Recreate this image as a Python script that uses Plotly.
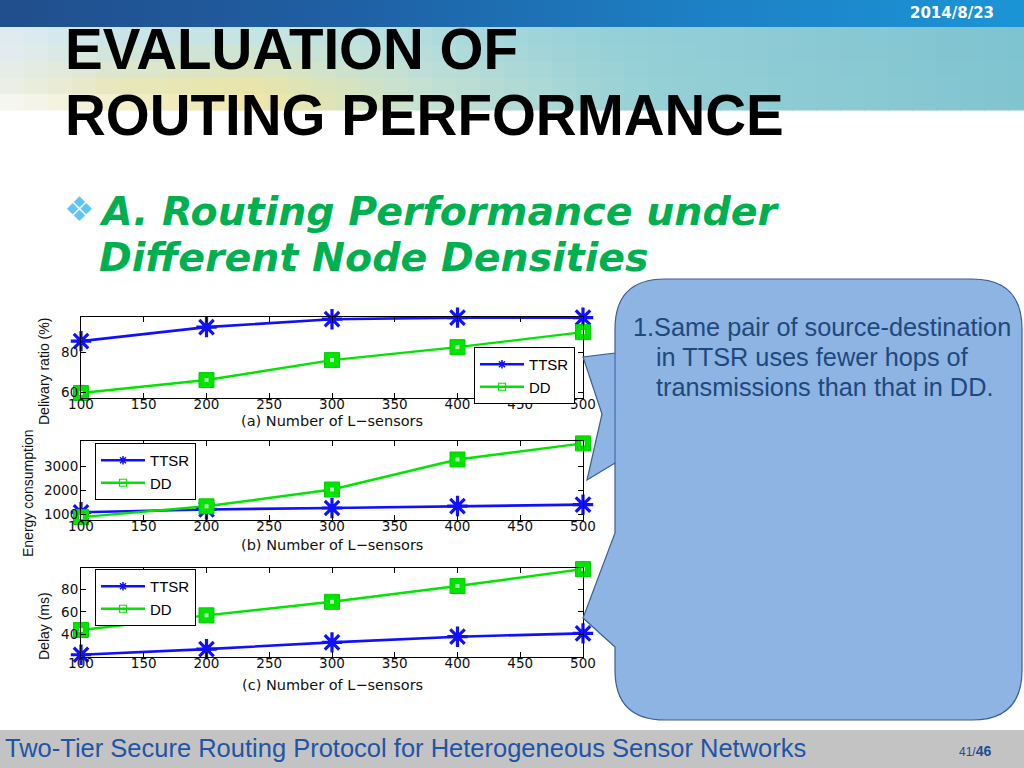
import plotly.graph_objects as go

W, H = 1024, 768

# ---------------- data ----------------
sensors = [100, 200, 300, 400, 500]
x_ticks = [100, 150, 200, 250, 300, 350, 400, 450, 500]
series_names = ["TTSR", "DD"]

delivery_ttsr = [85.5, 92.5, 96.5, 97.3, 97.3]
delivery_dd = [59.5, 66.0, 76.0, 82.5, 90.0]
delivery_ticks = [60, 80]

energy_ttsr = [1080, 1200, 1260, 1340, 1400]
energy_dd = [880, 1330, 2030, 3280, 3950]
energy_ticks = [1000, 2000, 3000]

delay_ttsr = [22, 27, 33, 38, 41]
delay_dd = [44, 57, 69, 83, 98]
delay_ticks = [40, 60, 80]

x_titles = ["(a) Number of L\u2212sensors", "(b) Number of L\u2212sensors", "(c) Number of L\u2212sensors"]
y_titles = ["Delivary ratio (%)", "Energy consumption", "Delay (ms)"]

slide_title = ["EVALUATION OF", "ROUTING PERFORMANCE"]
subtitle = ["A. Routing Performance under", "Different Node Densities"]
callout_lines = ["1.Same pair of source-destination", "in TTSR uses fewer hops of", "transmissions than that in DD."]
footer_text = "Two-Tier Secure Routing Protocol for Heterogeneous Sensor Networks"
date_text = "2014/8/23"

# ---------------- helpers ----------------
def px(x):
    return x / W


def py(y):
    return 1 - y / H


BLUE = "#1010ff"
GREEN = "#00e400"
FONT = "Liberation Sans"
WIDE = "DejaVu Sans"

panels = [
    dict(top=317, bottom=398, yrange=[57, 97.6], yt=delivery_ticks, ys=(delivery_ttsr, delivery_dd),
         legend=dict(x=474, y=347), ytitle=(44, 372), xtitle=421),
    dict(top=441, bottom=520, yrange=[760, 4050], yt=energy_ticks, ys=(energy_ttsr, energy_dd),
         legend=dict(x=95, y=443), ytitle=(28, 493), xtitle=545),
    dict(top=568, bottom=657, yrange=[20, 99], yt=delay_ticks, ys=(delay_ttsr, delay_dd),
         legend=dict(x=95, y=569), ytitle=(44, 626), xtitle=685),
]
PL, PR = 81, 583

fig = go.Figure()
layout = dict(
    width=W, height=H, margin=dict(l=0, r=0, t=0, b=0, pad=0, autoexpand=False),
    paper_bgcolor="white", plot_bgcolor="white", showlegend=True,
)
annotations = []
shapes = []

for i, p in enumerate(panels):
    n = "" if i == 0 else str(i + 1)
    xa, ya = "x" + n, "y" + n
    leg = "legend" + n
    t_vals, d_vals = p["ys"]
    # legend-carrying traces (line + small markers)
    fig.add_trace(go.Scatter(x=sensors, y=t_vals, name=series_names[0], mode="lines+markers",
                             line=dict(color=BLUE, width=2.6),
                             marker=dict(symbol="asterisk-open", size=7, color=BLUE,
                                         line=dict(color=BLUE, width=1.5)),
                             xaxis=xa, yaxis=ya, legend=leg, cliponaxis=False))
    fig.add_trace(go.Scatter(x=sensors, y=d_vals, name=series_names[1], mode="lines+markers",
                             line=dict(color=GREEN, width=2.4),
                             marker=dict(symbol="square-open", size=7, color=GREEN,
                                         line=dict(color=GREEN, width=1.2)),
                             xaxis=xa, yaxis=ya, legend=leg, cliponaxis=False))
    # big plot markers
    fig.add_trace(go.Scatter(x=sensors, y=t_vals, mode="markers", showlegend=False,
                             marker=dict(symbol="asterisk-open", size=17, color=BLUE,
                                         line=dict(color=BLUE, width=3.2)),
                             xaxis=xa, yaxis=ya, cliponaxis=False, hoverinfo="skip"))
    fig.add_trace(go.Scatter(x=sensors, y=d_vals, mode="markers", showlegend=False,
                             marker=dict(symbol="square", size=15, color=GREEN,
                                         line=dict(color="#00d000", width=1)),
                             xaxis=xa, yaxis=ya, cliponaxis=False, hoverinfo="skip"))
    fig.add_trace(go.Scatter(x=sensors, y=d_vals, mode="markers", showlegend=False,
                             marker=dict(symbol="square", size=4, color="#b8f5b8", line=dict(width=0)),
                             xaxis=xa, yaxis=ya, cliponaxis=False, hoverinfo="skip"))

    axis_common = dict(showline=True, linecolor="black", linewidth=1, mirror="allticks",
                       ticks="inside", ticklen=5, tickcolor="black", showgrid=False, zeroline=False,
                       automargin=False,
                       tickfont=dict(family=WIDE, size=13.5, color="#111"), fixedrange=True)
    layout["xaxis" + n] = dict(domain=[px(PL), px(PR)], range=[100, 500], tickvals=x_ticks,
                               anchor=ya, ticklabelstandoff=-6, **axis_common)
    layout["yaxis" + n] = dict(domain=[py(p["bottom"]), py(p["top"])], range=p["yrange"],
                               tickvals=p["yt"], anchor=xa, ticklabelstandoff=-1, **axis_common)
    layout[leg] = dict(x=px(p["legend"]["x"]), y=py(p["legend"]["y"]), xanchor="left", yanchor="top",
                       bgcolor="white", bordercolor="black", borderwidth=1,
                       font=dict(family=FONT, size=15, color="black"),
                       tracegroupgap=0, itemwidth=44)
    annotations.append(dict(text=x_titles[i], x=px((PL + PR) / 2), y=py(p["xtitle"]),
                            xref="paper", yref="paper", showarrow=False, xanchor="center", yanchor="middle",
                            font=dict(family=WIDE, size=14.5, color="#111")))
    annotations.append(dict(text=y_titles[i], x=px(p["ytitle"][0]), y=py(p["ytitle"][1]),
                            xref="paper", yref="paper", showarrow=False, textangle=-90,
                            xanchor="center", yanchor="middle",
                            font=dict(family=FONT, size=14, color="#111")))

# ---------------- slide decorations ----------------
def lerp(c1, c2, t):
    return tuple(int(round(a + (b - a) * t)) for a, b in zip(c1, c2))


def ramp(stops, v):
    for (v1, c1), (v2, c2) in zip(stops, stops[1:]):
        if v <= v2:
            return lerp(c1, c2, (v - v1) / (v2 - v1) if v2 > v1 else 0)
    return stops[-1][1]


def rgb(c):
    return "rgb(%d,%d,%d)" % c


# top blue bar
bar_stops = [(0, (33, 78, 140)), (350, (31, 96, 164)), (700, (29, 128, 196)), (1024, (27, 148, 214))]
step = 16
for x0 in range(0, W, step):
    shapes.append(dict(type="rect", xref="paper", yref="paper", x0=px(x0), x1=px(x0 + step + 1),
                       y0=py(27), y1=py(0), fillcolor=rgb(ramp(bar_stops, x0 + step / 2)),
                       line=dict(width=0), layer="below"))

# light band under the bar
band_top = [(0, (226, 236, 242)), (120, (200, 228, 232)), (300, (196, 228, 226)), (600, (150, 208, 216)),
            (1024, (126, 195, 208))]
band_low = [(0, (236, 240, 232)), (120, (236, 232, 180)), (260, (238, 228, 160)), (420, (200, 226, 210)),
            (650, (150, 208, 214)), (1024, (128, 196, 208))]
rows = [(27, 45, 0.0), (45, 62, 0.25), (62, 78, 0.55), (78, 94, 0.85), (94, 110, 1.0)]
bstep = 24
for x0 in range(0, W, bstep):
    xc = x0 + bstep / 2
    ct, cl = ramp(band_top, xc), ramp(band_low, xc)
    for (y0, y1, t) in rows:
        c = lerp(ct, cl, t)
        if y0 >= 94 and xc < 330:
            c = lerp(c, (255, 255, 255), 0.45 * (1 - xc / 330))
        shapes.append(dict(type="rect", xref="paper", yref="paper", x0=px(x0), x1=px(x0 + bstep + 1),
                           y0=py(y1 + 0.5), y1=py(y0), fillcolor=rgb(c), line=dict(width=0), layer="below"))

# footer bar
shapes.append(dict(type="rect", xref="paper", yref="paper", x0=0, x1=1, y0=0, y1=py(730),
                   fillcolor="#c3c3c3", line=dict(width=0), layer="below"))

# callout with three pointers
L, R, T, B, r = 615, 1022, 279, 720, 50
pts = [("M", L + r, T), ("L", R - r, T), ("Q", R, T, R, T + r), ("L", R, B - r), ("Q", R, B, R - r, B),
       ("L", L + r, B), ("Q", L, B, L, B - r), ("L", L, 647), ("L", 583, 618), ("L", L, 533), ("L", L, 463),
       ("L", 587, 480), ("L", 602, 414), ("L", 583, 357), ("L", L, 353), ("L", L, T + r),
       ("Q", L, T, L + r, T)]
path = ""
for seg in pts:
    cmd, coords = seg[0], seg[1:]
    parts = []
    for k in range(0, len(coords), 2):
        parts.append("%.5f,%.5f" % (px(coords[k]), py(coords[k + 1])))
    path += cmd + " " + " ".join(parts) + " "
path += "Z"
shapes.append(dict(type="path", xref="paper", yref="paper", path=path, fillcolor="#8db4e2",
                   line=dict(color="#3a5f96", width=1.2), layer="above"))
shapes.append(dict(type="line", xref="paper", yref="paper", x0=px(L), x1=px(L), y0=py(353), y1=py(463),
                   line=dict(color="#3a5f96", width=1), layer="above"))

# ---------------- slide texts ----------------
def text(t, x, y, size, color, family=FONT, xanchor="left", **kw):
    annotations.append(dict(text=t, x=px(x), y=py(y), xref="paper", yref="paper", showarrow=False,
                            xanchor=xanchor, yanchor="middle", font=dict(family=family, size=size, color=color),
                            **kw))


text("<b>" + date_text + "</b>", 996, 13, 15, "white", family=WIDE, xanchor="right")
text("<b>" + slide_title[0] + "</b>", 63, 49, 56.5, "black")
text("<b>" + slide_title[1] + "</b>", 63, 115, 56.5, "black")
text("\u2756", 62, 209, 34, "#5cc6f6", family="DejaVu Sans")
text("<b><i>" + subtitle[0] + "</i></b>", 97, 211, 39.5, "#00b050", family="DejaVu Sans")
text("<b><i>" + subtitle[1] + "</i></b>", 97, 257, 39.5, "#00b050", family="DejaVu Sans")
text(callout_lines[0], 631, 327, 25.3, "#1f497d")
text(callout_lines[1], 654, 357, 25.3, "#1f497d")
text(callout_lines[2], 654, 387, 25.3, "#1f497d")
text(footer_text, 3, 748, 25.5, "#1f55a5")
text("<span style='font-size:12px'>41/</span><b>46</b>", 993, 751, 14, "#1f4e8f", xanchor="right")

layout["annotations"] = annotations
layout["shapes"] = shapes
fig.update_layout(**layout)

fig.write_html("out.html", config={"displayModeBar": False},
               post_script="document.body.style.margin='0';document.body.style.overflow='hidden';")
